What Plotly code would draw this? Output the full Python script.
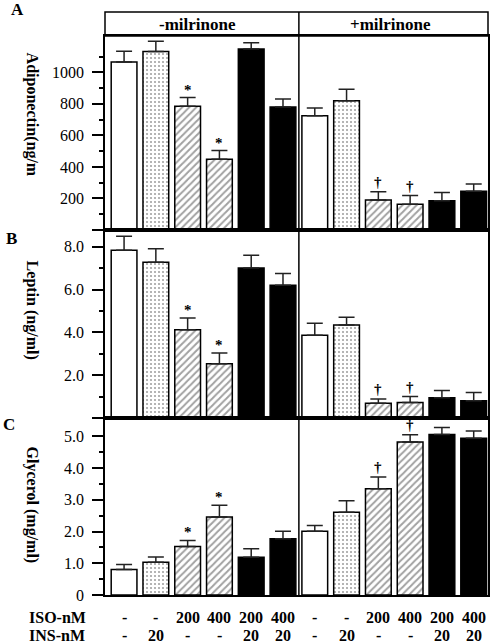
import plotly.graph_objects as go
from plotly.subplots import make_subplots

# ---------------- data ----------------
positions = list(range(12))
iso_labels = ["-", "-", "200", "400", "200", "400", "-", "-", "200", "400", "200", "400"]
ins_labels = ["-", "20", "-", "-", "20", "20", "-", "20", "-", "-", "20", "20"]

adiponectin = [1065, 1132, 785, 449, 1147, 780, 724, 819, 190, 163, 186, 246]
adiponectin_err = [68, 64, 55, 55, 40, 50, 49, 74, 53, 55, 51, 46]
leptin = [7.84, 7.27, 4.12, 2.53, 7.01, 6.20, 3.87, 4.34, 0.69, 0.72, 0.95, 0.81]
leptin_err = [0.65, 0.63, 0.55, 0.50, 0.59, 0.55, 0.56, 0.37, 0.20, 0.28, 0.33, 0.38]
glycerol = [0.80, 1.03, 1.53, 2.46, 1.19, 1.77, 2.01, 2.61, 3.35, 4.82, 5.06, 4.94]
glycerol_err = [0.16, 0.17, 0.19, 0.37, 0.27, 0.24, 0.18, 0.36, 0.37, 0.23, 0.22, 0.23]
significance = ["", "", "*", "*", "", "", "", "", "†", "†", "", ""]

fill_colors = ["white", "white", "white", "white", "black", "black"] * 2
fill_shapes = ["", ".", "/", "/", "", ""] * 2
pattern_sizes = [5, 4, 5, 5, 5, 5] * 2
pattern_solid = [0.2, 0.22, 0.4, 0.4, 0.2, 0.2] * 2

FONT = "Liberation Serif"

fig = make_subplots(rows=3, cols=1, shared_xaxes=True, vertical_spacing=0,
                    row_heights=[194, 188, 177])

panels = [
    (adiponectin, adiponectin_err, [0, 1230],
     [0, 200, 400, 600, 800, 1000], ["", "200", "400", "600", "800", "1000"],
     [100, 300, 500, 700, 900, 1100]),
    (leptin, leptin_err, [0, 8.78],
     [0, 2, 4, 6, 8], ["", "2.0", "4.0", "6.0", "8.0"],
     [1, 3, 5, 7]),
    (glycerol, glycerol_err, [0, 5.58],
     [0, 1, 2, 3, 4, 5], ["0", "1.0", "2.0", "3.0", "4.0", "5.0"],
     [0.5, 1.5, 2.5, 3.5, 4.5]),
]

for r, (vals, errs, yr, tv, tt, minor_tv) in enumerate(panels, start=1):
    fig.add_trace(go.Bar(
        x=positions, y=vals, width=0.81,
        marker=dict(color=fill_colors,
                    line=dict(color="black", width=1.5),
                    pattern=dict(shape=fill_shapes, fillmode="overlay",
                                 fgcolor="black", size=pattern_sizes,
                                 solidity=pattern_solid)),
        error_y=dict(type="data", symmetric=False, array=errs,
                     arrayminus=[0] * len(errs), color="#222",
                     thickness=1.5, width=8),
        showlegend=False,
    ), row=r, col=1)
    fig.update_yaxes(range=yr, tickvals=tv, ticktext=tt, ticks="outside",
                     ticklen=11, tickwidth=1.5, tickcolor="black",
                     showline=True, linecolor="black", linewidth=1.5,
                     mirror=True, showgrid=False, zeroline=False,
                     ticklabelstandoff=5,
                     tickfont=dict(family=FONT, size=16, color="black"),
                     minor=dict(tickvals=minor_tv, ticks="outside", ticklen=4,
                                tickwidth=1.5, tickcolor="black"),
                     row=r, col=1)
    fig.update_xaxes(range=[-0.6, 11.45], showticklabels=False, ticks="",
                     showline=True, linecolor="black", linewidth=1.5,
                     mirror=True, showgrid=False, zeroline=False,
                     row=r, col=1)
    # significance markers
    yref = "y" if r == 1 else f"y{r}"
    xref = "x" if r == 1 else f"x{r}"
    for i, s in enumerate(significance):
        if s:
            fig.add_annotation(x=positions[i], y=vals[i] + errs[i], xref=xref,
                               yref=yref, text=f"<b>{s}</b>", showarrow=False,
                               xanchor="center", yanchor="bottom",
                               yshift=-2 if s == "*" else 0,
                               font=dict(family=FONT, size=15, color="black"))

# header box and divider
header_h = 24 / 559
fig.add_shape(type="rect", xref="paper", yref="paper", x0=0, x1=1, y0=1,
              y1=1 + header_h, line=dict(color="black", width=1.5))
fig.add_shape(type="line", xref="x", yref="paper", x0=5.5, x1=5.5, y0=0,
              y1=1 + header_h, line=dict(color="black", width=1.5))

fig.add_annotation(xref="paper", yref="paper", x=0.2416, y=1 + header_h / 2,
                   text="<b>-milrinone</b>", showarrow=False,
                   xanchor="center", yanchor="middle",
                   font=dict(family=FONT, size=17, color="black"))
fig.add_annotation(xref="paper", yref="paper", x=0.7455, y=1 + header_h / 2,
                   text="<b>+milrinone</b>", showarrow=False,
                   xanchor="center", yanchor="middle",
                   font=dict(family=FONT, size=17, color="black"))

# axis titles (reading top to bottom)
titles = [("Adiponectin(ng/m", 115), ("Leptin (ng/ml)", 310), ("Glycerol (mg/ml)", 505)]
for t, ypx in titles:
    fig.add_annotation(xref="paper", yref="paper", x=(32 - 105) / 385,
                       y=(595 - ypx) / 559, text=f"<b>{t}</b>", textangle=90,
                       showarrow=False, xanchor="center", yanchor="middle",
                       font=dict(family=FONT, size=16, color="black"))

# panel letters
for letter, xpx, ypx in [("A", 17, 10), ("B", 11, 238), ("C", 9, 424)]:
    fig.add_annotation(xref="paper", yref="paper", x=(xpx - 105) / 385,
                       y=(595 - ypx) / 559, text=f"<b>{letter}</b>",
                       showarrow=False, xanchor="center", yanchor="middle",
                       font=dict(family=FONT, size=17, color="black"))

# condition rows under the chart
for row_label, labels, ypx in [("ISO-nM", iso_labels, 617), ("INS-nM", ins_labels, 635)]:
    yp = (595 - ypx) / 559
    fig.add_annotation(xref="paper", yref="paper", x=(57 - 105) / 385, y=yp,
                       text=f"<b>{row_label}</b>", showarrow=False,
                       xanchor="center", yanchor="middle",
                       font=dict(family=FONT, size=16, color="black"))
    for i, lab in enumerate(labels):
        fig.add_annotation(xref="x3", yref="paper", x=positions[i], y=yp,
                           text=f"<b>{lab}</b>", showarrow=False,
                           xanchor="center", yanchor="middle",
                           font=dict(family=FONT, size=16, color="black"))

fig.update_layout(width=492, height=644,
                  margin=dict(l=105, r=2, t=36, b=49),
                  plot_bgcolor="white", paper_bgcolor="white",
                  bargap=0.2, font=dict(family=FONT, color="black"))

fig.write_html("out.html", config={"displayModeBar": False},
               post_script="document.body.style.margin='0';"
               "document.body.style.overflow='hidden';")
